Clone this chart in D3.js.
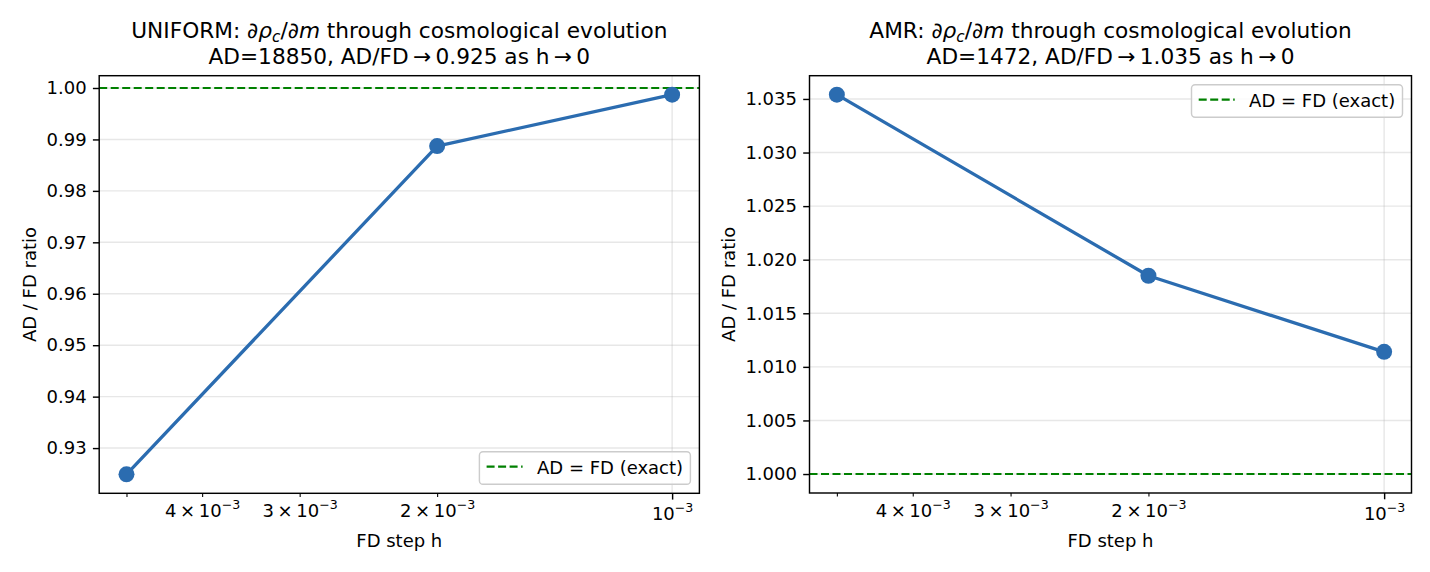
<!DOCTYPE html>
<html><head><meta charset="utf-8">
<script src="https://cdn.jsdelivr.net/npm/d3@7"></script>
<style>
body{margin:0;background:#fff;}
svg{display:block;font-family:"DejaVu Sans",sans-serif;}
</style>
</head><body>
<svg id="chart" width="1430" height="572"></svg>
<script>
// ---------------- data ----------------
const hSteps = [5e-3, 2e-3, 1e-3];
const uniformRatio = [0.9249, 0.9887, 0.9987];
const amrRatio = [1.0354, 1.0185, 1.0114];
const exactRatio = 1.0;
const uniformYTicks = [0.93, 0.94, 0.95, 0.96, 0.97, 0.98, 0.99, 1.00];
const amrYTicks = [1.000, 1.005, 1.010, 1.015, 1.020, 1.025, 1.030, 1.035];
const xMinorTicks = [5e-3, 4e-3, 3e-3, 2e-3];
const xMinorLabeled = [4e-3, 3e-3, 2e-3];
const xMajorTicks = [1e-3];
const panelNames = ["UNIFORM", "AMR"];
const adValues = ["18850", "1472"];
const limitRatios = ["0.925", "1.035"];
const legendLabel = "AD = FD (exact)";
const yLabel = "AD / FD ratio";
const xLabel = "FD step h";

// ---------------- layout ----------------
const svg = d3.select("#chart");
const FS = 18;          // 10pt @130dpi
const TFS = 21.67;      // 12pt @130dpi
const blue = "#2b6cb0";
const green = "#008000";

const panels = [
  {name: panelNames[0], ad: adValues[0], lim: limitRatios[0], vals: uniformRatio, ticks: uniformYTicks,
   fmt: ".2f", includeRef: false, legend: "lower right", box: {x0: 99.2, x1: 699.4, y0: 75.7, y1: 493.3}, ylabX: 30},
  {name: panelNames[1], ad: adValues[1], lim: limitRatios[1], vals: amrRatio, ticks: amrYTicks,
   fmt: ".3f", includeRef: true, legend: "upper right", box: {x0: 809.5, x1: 1411.5, y0: 75.7, y1: 493.0}, ylabX: 729}
];

panels.forEach(p => {
  const b = p.box;
  const g = svg.append("g");

  // x: log scale, reversed, matplotlib-like 5% margins in log space
  const lmax = Math.log10(d3.max(hSteps)), lmin = Math.log10(d3.min(hSteps));
  const mx = 0.05 * (lmax - lmin);
  const x = d3.scaleLog().domain([Math.pow(10, lmax + mx), Math.pow(10, lmin - mx)]).range([b.x0, b.x1]);

  // y: linear, 5% margins
  const ext = d3.extent(p.includeRef ? p.vals.concat([exactRatio]) : p.vals);
  const my = 0.05 * (ext[1] - ext[0]);
  const y = d3.scaleLinear().domain([ext[0] - my, ext[1] + my]).range([b.y1, b.y0]);

  // grid
  g.append("g").selectAll("line.hg").data(p.ticks).join("line")
    .attr("x1", b.x0).attr("x2", b.x1).attr("y1", d => y(d)).attr("y2", d => y(d))
    .attr("stroke", "#b0b0b0").attr("stroke-opacity", 0.3).attr("stroke-width", 1.44);
  g.append("g").selectAll("line.vg").data(xMajorTicks).join("line")
    .attr("x1", d => x(d)).attr("x2", d => x(d)).attr("y1", b.y0).attr("y2", b.y1)
    .attr("stroke", "#b0b0b0").attr("stroke-opacity", 0.3).attr("stroke-width", 1.44);

  // reference line
  g.append("line").attr("x1", b.x0).attr("x2", b.x1).attr("y1", y(exactRatio)).attr("y2", y(exactRatio))
    .attr("stroke", green).attr("stroke-width", 2.17).attr("stroke-dasharray", "8,3.5");

  // data line + markers
  const pts = hSteps.map((h, i) => [h, p.vals[i]]);
  g.append("path").datum(pts)
    .attr("d", d3.line().x(d => x(d[0])).y(d => y(d[1])))
    .attr("fill", "none").attr("stroke", blue).attr("stroke-width", 3.3).attr("stroke-linejoin", "round");
  g.append("g").selectAll("circle").data(pts).join("circle")
    .attr("cx", d => x(d[0])).attr("cy", d => y(d[1])).attr("r", 8).attr("fill", blue);

  // spines
  g.append("rect").attr("x", b.x0).attr("y", b.y0).attr("width", b.x1 - b.x0).attr("height", b.y1 - b.y0)
    .attr("fill", "none").attr("stroke", "#000").attr("stroke-width", 1.44);

  // y axis
  const ya = g.append("g").attr("transform", `translate(${b.x0},0)`)
    .call(d3.axisLeft(y).tickValues(p.ticks).tickFormat(d3.format(p.fmt)).tickSize(6.3).tickPadding(6.3));
  ya.select(".domain").remove();
  ya.attr("font-size", FS).attr("font-family", "DejaVu Sans").attr("color", "#000");
  ya.selectAll("line").attr("stroke-width", 1.44);

  // x axis minor
  const xaMin = g.append("g").attr("transform", `translate(0,${b.y1})`)
    .call(d3.axisBottom(x).tickValues(xMinorTicks).tickFormat(() => "").tickSize(3.6).tickPadding(6.1));
  xaMin.select(".domain").remove();
  xaMin.attr("color", "#000");
  xaMin.selectAll("line").attr("stroke-width", 1.08);
  xaMin.selectAll(".tick text").remove();
  xaMin.selectAll(".tick").filter(d => xMinorLabeled.some(v => Math.abs(v - d) < 1e-12))
    .append("text").attr("y", 24.2).attr("text-anchor", "middle")
    .attr("font-size", FS).attr("font-family", "DejaVu Sans").attr("fill", "#000")
    .each(function(d) {
      const e = Math.floor(Math.log10(d) + 1e-9);
      const m = Math.round(d / Math.pow(10, e));
      const t = d3.select(this);
      t.append("tspan").text(m + "\u2009×\u200910");
      t.append("tspan").attr("font-size", FS * 0.7).attr("dy", -8).text("\u2212" + (-e));
    });

  // x axis major
  const xaMaj = g.append("g").attr("transform", `translate(0,${b.y1})`)
    .call(d3.axisBottom(x).tickValues(xMajorTicks).tickFormat(() => "").tickSize(6.3).tickPadding(6.3));
  xaMaj.select(".domain").remove();
  xaMaj.attr("color", "#000");
  xaMaj.selectAll("line").attr("stroke-width", 1.44);
  xaMaj.selectAll(".tick text").remove();
  xaMaj.selectAll(".tick").append("text").attr("y", 26.5).attr("text-anchor", "middle")
    .attr("font-size", FS).attr("font-family", "DejaVu Sans").attr("fill", "#000")
    .each(function(d) {
      const e = Math.round(Math.log10(d));
      const t = d3.select(this);
      t.append("tspan").text("10");
      t.append("tspan").attr("font-size", FS * 0.7).attr("dy", -8).text("\u2212" + (-e));
    });

  // axis labels
  const cx = (b.x0 + b.x1) / 2, cy = (b.y0 + b.y1) / 2;
  g.append("text").attr("x", cx).attr("y", 546.5).attr("text-anchor", "middle")
    .attr("font-size", FS).text(xLabel);
  g.append("text").attr("transform", `translate(${p.ylabX},${cy}) rotate(-90)`)
    .attr("text-anchor", "middle").attr("dy", "0.35em").attr("font-size", FS).text(yLabel);

  // title
  const t1 = g.append("text").attr("x", cx).attr("y", 38).attr("text-anchor", "middle").attr("font-size", TFS);
  t1.append("tspan").text(p.name + ": ");
  t1.append("tspan").attr("font-style", "italic").text("∂ρ");
  t1.append("tspan").attr("font-style", "italic").attr("font-size", TFS * 0.7).attr("dy", 4).text("c");
  t1.append("tspan").attr("dy", -4).text("/");
  t1.append("tspan").attr("font-style", "italic").text("∂m");
  t1.append("tspan").text(" through cosmological evolution");
  g.append("text").attr("x", cx).attr("y", 64).attr("text-anchor", "middle").attr("font-size", TFS)
    .text(`AD=${p.ad}, AD/FD\u2009→\u2009${p.lim} as h\u2009→\u20090`);

  // legend
  const lw = 211, lh = 32.5, pad = 9;
  const lx = b.x1 - pad - lw;
  const ly = p.legend === "lower right" ? b.y1 - pad - lh : b.y0 + pad;
  const lg = g.append("g");
  lg.append("rect").attr("x", lx).attr("y", ly).attr("width", lw).attr("height", lh).attr("rx", 3.6)
    .attr("fill", "#fff").attr("fill-opacity", 0.8).attr("stroke", "#cccccc").attr("stroke-width", 1.44);
  const lcy = ly + lh / 2 - 1.4;
  lg.append("line").attr("x1", lx + 7.2).attr("x2", lx + 43.2).attr("y1", lcy).attr("y2", lcy)
    .attr("stroke", green).attr("stroke-width", 2.17).attr("stroke-dasharray", "8,3.5");
  lg.append("text").attr("x", lx + 57.6).attr("y", ly + lh / 2 + 4.5 + 1.5).attr("font-size", FS).text(legendLabel);
});
</script>
</body></html>
